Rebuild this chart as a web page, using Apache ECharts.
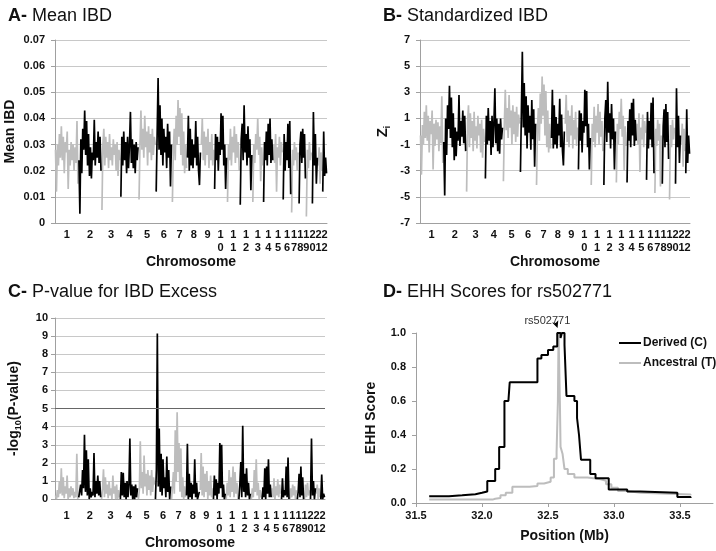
<!DOCTYPE html>
<html><head><meta charset="utf-8">
<script src="https://cdn.jsdelivr.net/npm/echarts@6/dist/echarts.min.js"></script>
<style>html,body{margin:0;padding:0;background:#fff}#c{width:716px;height:551px}</style>
</head><body><div id="c"></div>
<script>
const chromosomes = ['1','2','3','4','5','6','7','8','9','10','11','12','13','14','15','16','17','18','19','20','21','22'];
const chromLengthMb = [247.2,242.8,199.5,191.3,180.9,170.9,158.8,146.3,140.3,135.4,134.5,132.3,114.1,106.4,100.3,88.8,78.8,76.1,63.8,62.4,46.9,49.7];

const meanIBD = [
 [0.028,0.012,0.030,0.022,0.034,0.025,0.037,0.024,0.033,0.019,0.031,0.027,0.035,0.013,0.028,0.022,0.031,0.024,0.030,0.020,0.029,0.023,0.039,0.015],
 [0.024,0.0035,0.032,0.019,0.036,0.028,0.043,0.026,0.039,0.022,0.034,0.018,0.029,0.017,0.027,0.024,0.0395,0.022,0.031,0.025,0.035,0.023,0.033,0.020],
 [0.005,0.030,0.036,0.022,0.033,0.025,0.031,0.021,0.034,0.024,0.029,0.022,0.032,0.026,0.030,0.020,0.031,0.018,0.028,0.024],
 [0.010,0.033,0.022,0.035,0.024,0.031,0.019,0.033,0.021,0.030,0.0425,0.023,0.032,0.021,0.030,0.019,0.031,0.024,0.029],
 [0.009,0.030,0.043,0.028,0.036,0.025,0.041,0.029,0.035,0.022,0.037,0.027,0.034,0.024,0.036,0.026,0.033,0.030],
 [0.012,0.034,0.0555,0.028,0.045,0.026,0.040,0.022,0.036,0.027,0.033,0.021,0.038,0.025,0.035,0.014,0.030],
 [0.008,0.028,0.036,0.024,0.041,0.030,0.047,0.033,0.044,0.026,0.042,0.022,0.035,0.019,0.030,0.021],
 [0.025,0.041,0.020,0.036,0.022,0.032,0.021,0.030,0.025,0.039,0.022,0.033,0.020,0.0145,0.027],
 [0.030,0.040,0.024,0.035,0.022,0.033,0.026,0.036,0.021,0.031,0.024,0.034,0.022,0.028],
 [0.013,0.034,0.024,0.033,0.020,0.031,0.026,0.042,0.028,0.041,0.022,0.030,0.013,0.025],
 [0.008,0.030,0.024,0.036,0.022,0.033,0.027,0.037,0.023,0.034,0.025,0.031,0.020],
 [0.007,0.032,0.038,0.024,0.045,0.027,0.034,0.022,0.037,0.025,0.032,0.0125,0.026],
 [0.008,0.030,0.023,0.034,0.028,0.040,0.026,0.033,0.016,0.029,0.022],
 [0.008,0.031,0.024,0.035,0.022,0.038,0.026,0.040,0.023,0.032,0.024],
 [0.030,0.023,0.034,0.012,0.029,0.025,0.033,0.022,0.031,0.027],
 [0.009,0.034,0.020,0.031,0.024,0.038,0.021,0.039,0.011],
 [0.004,0.028,0.022,0.031,0.024,0.029,0.020,0.027],
 [0.0075,0.030,0.035,0.023,0.036,0.025,0.034,0.017],
 [0.0025,0.028,0.021,0.031,0.024,0.027],
 [0.0075,0.0425,0.022,0.034,0.015,0.025],
 [0.022,0.029,0.015,0.027,0.020],
 [0.012,0.035,0.018,0.025,0.019]
];

const standardizedIBD = [
 [-0.3,-3.3,0.5,-1.0,1.5,-0.5,2.0,-0.7,1.2,-1.6,0.8,-0.2,1.6,-2.9,0.6,-1.1,0.9,-0.6,0.7,-1.5,0.4,-0.9,2.7,-2.4],
 [-0.8,-4.9,1.0,-1.8,2.0,0.2,3.5,-0.5,2.6,-1.2,1.4,-2.2,0.3,-1.9,0.0,-0.7,2.8,-1.1,0.8,-0.4,1.6,-0.9,1.2,-1.5],
 [-4.6,0.6,2.0,-1.2,1.4,-0.5,0.8,-1.5,1.5,-0.7,0.4,-1.3,1.2,-0.3,0.6,-1.6,0.9,-2.0,0.2,-0.8],
 [-3.6,1.2,-1.0,1.8,-0.7,0.8,-1.8,1.2,-1.2,0.7,3.3,-0.9,1.0,-1.5,0.6,-1.7,1.0,-0.6,0.3],
 [-3.8,0.6,3.2,0.1,1.8,-0.5,2.8,0.3,1.6,-1.0,2.0,-0.2,1.5,-0.8,1.9,-0.4,1.3,0.6],
 [-3.1,1.5,6.1,0.3,3.7,-0.3,2.7,-1.3,2.0,-0.1,1.2,-1.4,2.4,-0.6,1.7,-2.7,0.6],
 [-4.1,0.2,1.8,-0.7,2.9,0.6,4.2,1.2,3.6,-0.3,3.1,-1.2,1.6,-1.6,0.6,-1.3],
 [-0.5,3.2,-1.3,2.0,-1.0,1.1,-1.3,0.6,-0.3,2.5,-1.2,1.3,-1.5,-2.6,0.0],
 [0.6,2.8,-0.8,1.6,-1.2,1.2,-0.3,2.0,-1.3,0.9,-0.6,1.5,-1.1,0.3],
 [-2.9,1.6,-0.7,1.4,-1.6,0.8,-0.1,3.2,0.4,3.1,-1.2,0.6,-2.9,-0.5],
 [-4.1,0.6,-0.8,1.9,-1.2,1.2,-0.1,2.1,-1.0,1.5,-0.4,0.8,-1.5],
 [-4.1,1.0,2.4,-0.8,3.8,-0.1,1.4,-1.3,2.1,-0.6,1.0,-2.9,0.0],
 [-3.9,0.6,-1.0,1.5,0.2,2.5,-0.4,1.2,-3.0,0.4,-1.1],
 [-3.9,0.8,-0.7,1.7,-1.2,2.2,-0.3,2.5,-1.1,0.9,-0.7],
 [0.6,-1.0,1.4,-3.1,0.3,-0.6,1.3,-1.2,0.8,-0.1],
 [-3.7,1.5,-1.3,0.8,-0.6,2.2,-1.2,2.6,-3.2],
 [-4.7,0.2,-1.1,0.9,-0.7,0.6,-4.2,-0.3],
 [-4.0,0.4,1.7,-1.2,2.1,-0.8,1.5,-2.1],
 [-5.2,0.5,-1.2,0.9,-0.6,0.3],
 [-4.0,3.3,-1.2,1.2,-2.4,-0.3],
 [-1.0,0.6,-2.7,0.2,-1.5],
 [-3.2,1.7,-2.4,-0.3,-1.7]
];

const negLog10P = [
 [0.2,0.0,0.5,0.1,1.0,0.3,1.7,0.2,1.2,0.05,0.7,0.3,1.3,0.0,0.6,0.1,0.7,0.2,0.6,0.05,0.4,0.1,2.5,0.0],
 [0.1,0.0,0.8,0.2,1.6,0.6,3.55,0.4,2.7,0.2,2.2,0.0,0.6,0.1,0.4,0.2,2.55,0.1,1.0,0.3,1.3,0.2,1.0,0.1],
 [0.0,0.6,1.65,0.1,1.2,0.3,0.8,0.05,1.0,0.2,0.6,0.0,1.3,0.3,0.7,0.0,0.8,0.0,0.5,0.1],
 [0.0,1.5,0.2,1.45,0.1,0.9,0.0,1.0,0.1,0.8,3.35,0.2,0.8,0.0,0.7,0.0,0.8,0.1,0.6],
 [0.0,0.5,3.2,0.6,1.5,0.3,2.4,0.7,1.4,0.2,1.6,0.5,1.3,0.2,1.6,0.4,1.2,0.8],
 [0.0,1.6,9.15,0.7,3.9,0.4,2.5,0.2,2.2,0.6,1.2,0.1,2.35,0.4,1.6,0.0,0.7],
 [0.0,0.7,1.5,0.3,3.8,1.0,4.8,1.5,3.1,0.4,2.8,0.1,1.2,0.0,0.7,0.1],
 [0.2,3.05,0.0,1.4,0.1,0.9,0.0,0.8,0.3,2.2,0.1,0.9,0.0,0.0,0.4],
 [0.5,2.55,0.2,1.8,0.1,1.4,0.4,1.55,0.0,1.0,0.2,1.3,0.1,0.6],
 [0.0,1.3,0.2,1.1,0.0,0.9,0.3,3.1,0.6,3.0,0.1,0.8,0.0,0.3],
 [0.0,0.9,0.2,1.6,0.1,1.2,0.4,1.8,0.1,1.5,0.3,0.9,0.0],
 [0.0,0.8,2.05,0.1,4.05,0.4,1.4,0.1,1.7,0.2,0.9,0.0,0.3],
 [0.0,0.6,0.1,1.6,0.4,2.2,0.2,0.9,0.0,0.5,0.1],
 [0.0,0.65,0.1,1.7,0.0,1.8,0.3,2.2,0.1,0.8,0.1],
 [0.6,0.1,1.15,0.0,0.7,0.2,1.1,0.1,0.8,0.3],
 [0.0,1.15,0.1,0.5,0.2,1.8,0.1,2.3,0.0],
 [0.0,0.6,0.1,0.8,0.2,0.7,0.0,0.5],
 [0.0,0.4,1.4,0.1,1.8,0.2,1.2,0.0],
 [0.0,0.8,0.1,0.9,0.2,0.5],
 [0.0,3.35,0.2,1.0,0.0,0.6],
 [0.3,0.8,0.0,0.6,0.1],
 [0.0,1.35,0.0,0.3,0.1]
];
const significanceThreshold = 5;

const derivedPosMb = [31.60,31.75,31.85,31.95,32.00,32.04,32.10,32.13,32.17,32.20,32.21,32.42,32.45,32.50,32.54,32.57,32.595,32.605,32.625,32.64,32.70,32.72,32.735,32.75,32.82,32.86,32.96,33.10,33.20,33.48,33.58];
const derivedEHH   = [0.039,0.045,0.052,0.060,0.068,0.130,0.200,0.330,0.600,0.610,0.710,0.850,0.870,0.900,0.920,1.000,0.970,1.000,0.930,0.630,0.600,0.500,0.400,0.255,0.170,0.145,0.080,0.068,0.060,0.035,0.030];
const ancestralPosMb = [31.60,32.08,32.10,32.14,32.18,32.23,32.36,32.42,32.47,32.52,32.545,32.565,32.575,32.58,32.59,32.595,32.61,32.625,32.65,32.70,32.80,32.90,32.94,32.98,33.03,33.10,33.20,33.58];
const ancestralEHH   = [0.020,0.025,0.030,0.045,0.060,0.095,0.100,0.115,0.125,0.150,0.260,0.300,0.600,1.000,0.600,0.330,0.290,0.200,0.170,0.150,0.140,0.130,0.110,0.090,0.070,0.060,0.050,0.045];
const snpName = 'rs502771';
const snpPosMb = 32.58;
const positionTicks = [31.5,32.0,32.5,33.0,33.5];

const FONT = 'Liberation Sans, Arial, sans-serif';
const GRAY = '#bdbdbd';
const AXIS = '#a0a0a0';
const GRID = '#c8c8c8';

const chromStart = []; let acc = 0;
chromLengthMb.forEach(l => { chromStart.push(acc); acc += l; });
const genomeLength = acc;
const chromCenter = chromStart.map((s, i) => s + chromLengthMb[i] / 2);
// label anchors: chromosome centres, spread so that neighbouring labels keep a readable gap
const minLabelGap = genomeLength * 6.1 / 272;
const labelPos = chromCenter.slice();
labelPos[labelPos.length - 1] = Math.max(labelPos[labelPos.length - 1], genomeLength - genomeLength * 2.5 / 272);
for (let i = labelPos.length - 2; i >= 0; i--) labelPos[i] = Math.min(labelPos[i], labelPos[i + 1] - minLabelGap);

function chromLabel(v) {
  let best = 0, d = Infinity;
  labelPos.forEach((c, i) => { if (Math.abs(c - v) < d) { d = Math.abs(c - v); best = i; } });
  return chromosomes[best].split('').join('\n');
}

function chromSeries(values, gi) {
  return values.map((arr, i) => ({
    type: 'line', xAxisIndex: gi, yAxisIndex: gi, symbol: 'none', silent: true, animation: false,
    z: i % 2 ? 3 : 2,
    lineStyle: { width: 1.7, color: i % 2 ? '#000' : GRAY },
    data: arr.map((v, j) => [chromStart[i] + (j + 0.5) / arr.length * chromLengthMb[i], v])
  }));
}

const labelStyle = { fontFamily: FONT, fontWeight: 'bold', fontSize: 11, color: '#111' };
const nameStyle = { fontFamily: FONT, fontWeight: 'bold', fontSize: 14, color: '#111' };

function chromXAxis(gi, margin, gap) {
  return {
    type: 'value', gridIndex: gi, min: 0, max: genomeLength,
    name: 'Chromosome', nameLocation: 'middle', nameGap: gap, nameTextStyle: nameStyle,
    axisLine: { show: true, onZero: false, lineStyle: { color: AXIS } },
    axisTick: { show: false },
    splitLine: { show: false },
    axisLabel: Object.assign({ customValues: labelPos, formatter: chromLabel, margin: margin, lineHeight: 13, interval: 0 }, labelStyle)
  };
}
function valYAxis(gi, min, max, interval, fmt, name, gap, margin, rich) {
  return {
    type: 'value', gridIndex: gi, min, max, interval,
    name, nameLocation: 'middle', nameGap: gap, nameRotate: 90,
    nameTextStyle: Object.assign({ rich: rich || {} }, nameStyle),
    axisLine: { show: true, lineStyle: { color: AXIS } },
    axisTick: { show: true, length: 4, lineStyle: { color: AXIS } },
    splitLine: { show: true, lineStyle: { color: GRID, width: 1 } },
    axisLabel: Object.assign({ formatter: fmt, margin: margin }, labelStyle)
  };
}

const titleRich = {
  b: { fontFamily: FONT, fontWeight: 'bold', fontSize: 18, color: '#111' },
  n: { fontFamily: FONT, fontWeight: 'normal', fontSize: 18, color: '#111' }
};

const series = [].concat(
  chromSeries(meanIBD, 0),
  chromSeries(standardizedIBD, 1),
  chromSeries(negLog10P, 2)
);
series[44].markLine = {
  silent: true, symbol: 'none', label: { show: false }, animation: false,
  lineStyle: { color: '#666', width: 1.2, type: 'solid' },
  data: [{ yAxis: significanceThreshold }]
};
series.push({
  name: 'Derived (C)', type: 'line', xAxisIndex: 3, yAxisIndex: 3, symbol: 'none', step: 'end', animation: false, z: 4,
  lineStyle: { width: 2, color: '#000' }, itemStyle: { color: '#000' },
  data: derivedPosMb.map((x, i) => [x, derivedEHH[i]]),
  markPoint: {
    symbol: 'arrow', symbolSize: [5, 7], symbolRotate: 200, symbolOffset: [-1, -5], animation: false,
    itemStyle: { color: '#000' },
    label: { show: true, position: 'top', offset: [-9, 11], formatter: snpName, fontFamily: FONT, fontSize: 11, color: '#333' },
    data: [{ coord: [snpPosMb, 1.0] }]
  }
});
series.push({
  name: 'Ancestral (T)', type: 'line', xAxisIndex: 3, yAxisIndex: 3, symbol: 'none', step: 'end', animation: false, z: 3,
  lineStyle: { width: 2, color: GRAY }, itemStyle: { color: GRAY },
  data: ancestralPosMb.map((x, i) => [x, ancestralEHH[i]])
});

const option = {
  backgroundColor: '#fff',
  animation: false,
  title: [
    { left: 3, top: 2, text: '{b|A-}{n| Mean IBD}', textStyle: { rich: titleRich } },
    { left: 378, top: 2, text: '{b|B-}{n| Standardized IBD}', textStyle: { rich: titleRich } },
    { left: 3, top: 278, text: '{b|C-}{n| P-value for IBD Excess}', textStyle: { rich: titleRich } },
    { left: 378, top: 278, text: '{b|D-}{n| EHH Scores for ' + snpName + '}', textStyle: { rich: titleRich } }
  ],
  legend: {
    orient: 'vertical', left: 614, top: 332, itemWidth: 22, itemHeight: 10, itemGap: 8,
    icon: 'path://M0,4 L22,4 L22,6 L0,6 Z',
    textStyle: { fontFamily: FONT, fontWeight: 'bold', fontSize: 12, color: '#111', padding: [0, 0, 0, -3] },
    data: ['Derived (C)', 'Ancestral (T)']
  },
  grid: [
    { left: 55, top: 40, width: 272, height: 183 },
    { left: 420, top: 40, width: 270, height: 183 },
    { left: 55, top: 318, width: 270, height: 183 },
    { left: 416, top: 333, width: 297, height: 170 }
  ],
  xAxis: [
    chromXAxis(0, 5, 26),
    chromXAxis(1, 5, 26),
    chromXAxis(2, 10, 35),
    {
      type: 'value', gridIndex: 3, min: 31.5, max: 33.75,
      name: 'Position (Mb)', nameLocation: 'middle', nameGap: 26, nameTextStyle: nameStyle,
      axisLine: { show: true, onZero: false, lineStyle: { color: AXIS } },
      axisTick: { show: true, length: 4, customValues: positionTicks, lineStyle: { color: AXIS } },
      splitLine: { show: false },
      axisLabel: Object.assign({ customValues: positionTicks, formatter: v => v.toFixed(1), margin: 7 }, labelStyle)
    }
  ],
  yAxis: [
    valYAxis(0, 0, 0.07, 0.01, v => v === 0 ? '0' : v.toFixed(2), 'Mean IBD', 38, 10),
    valYAxis(1, -7, 7, 2, v => String(Math.round(v)), '{z|Z}{s|i}', 28, 10,
      { z: { fontFamily: FONT, fontWeight: 'bold', fontSize: 15, color: '#111', lineHeight: 18 },
        s: { fontFamily: FONT, fontWeight: 'bold', fontSize: 9, color: '#111', verticalAlign: 'bottom', lineHeight: 10 } }),
    valYAxis(2, 0, 10, 1, v => String(Math.round(v)), '{a|-log}{s|10}{a|(P-value)}', 32, 7,
      { a: { fontFamily: FONT, fontWeight: 'bold', fontSize: 14, color: '#111', lineHeight: 18 },
        s: { fontFamily: FONT, fontWeight: 'bold', fontSize: 9, color: '#111', verticalAlign: 'bottom', lineHeight: 10 } }),
    Object.assign(valYAxis(3, 0, 1, 0.2, v => v.toFixed(1), 'EHH Score', 38, 10), { splitLine: { show: false } })
  ],
  series
};

const chart = echarts.init(document.getElementById('c'), null, { renderer: 'canvas' });
chart.setOption(option);
</script>
</body></html>
